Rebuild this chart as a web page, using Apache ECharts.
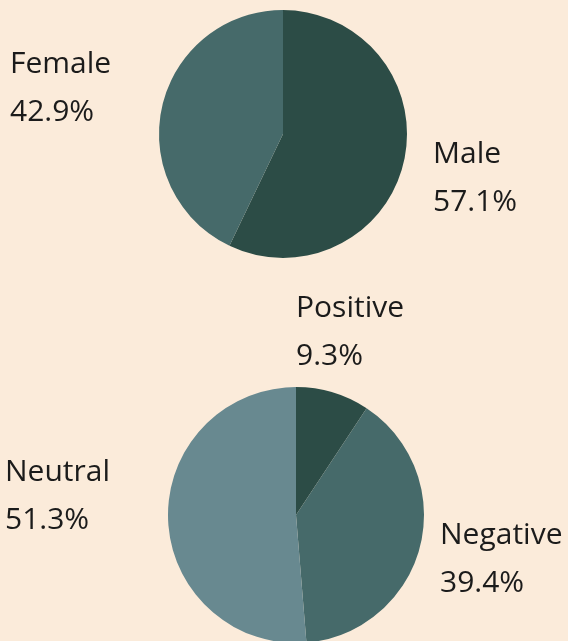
<!DOCTYPE html>
<html>
<head>
<meta charset="utf-8">
<script src="https://cdn.jsdelivr.net/npm/echarts@6/dist/echarts.min.js"></script>
<style>
  html, body { margin: 0; padding: 0; background: #fbebda; }
  #chart { width: 568px; height: 641px; }
</style>
</head>
<body>
<div id="chart"></div>
<script>
(function () {
  // gender split (percent)
  var genderNames = ['Male', 'Female'];
  var genderValues = [57.1, 42.9];

  // sentiment split (percent)
  var sentimentNames = ['Positive', 'Negative', 'Neutral'];
  var sentimentValues = [9.3, 39.4, 51.3];

  var palette = ['#2c4c46', '#466a6a', '#688990'];

  // where each label block sits (left x, middle y)
  var labelPos = {
    Female: [10, 88], Male: [433, 178],
    Positive: [296, 332], Negative: [440, 559], Neutral: [5, 496]
  };

  function toData(names, values) {
    return names.map(function (n, i) {
      return { name: n, value: values[i], itemStyle: { color: palette[i] } };
    });
  }

  var labelStyle = {
    show: true,
    position: 'outside',
    formatter: '{b}\n{d}%',
    color: '#1b1b1b',
    fontFamily: '"Open Sans", sans-serif',
    fontSize: 30,
    lineHeight: 48,
    align: 'left',
    overflow: 'none'
  };

  function layout(series) {
    return function (params) {
      var p = labelPos[series[params.dataIndex]];
      return { x: p[0], y: p[1], align: 'left', verticalAlign: 'middle' };
    };
  }

  var chart = echarts.init(document.getElementById('chart'), null, { renderer: 'canvas' });
  chart.setOption({
    animation: false,
    backgroundColor: '#fbebda',
    series: [
      {
        type: 'pie',
        center: [283, 134],
        radius: 124,
        startAngle: 90,
        percentPrecision: 1,
        data: toData(genderNames, genderValues),
        label: labelStyle,
        labelLine: { show: false },
        labelLayout: layout(genderNames),
        emphasis: { disabled: true }
      },
      {
        type: 'pie',
        center: [296, 515],
        radius: 128,
        startAngle: 90,
        percentPrecision: 1,
        data: toData(sentimentNames, sentimentValues),
        label: labelStyle,
        labelLine: { show: false },
        labelLayout: layout(sentimentNames),
        emphasis: { disabled: true }
      }
    ]
  });
  window.addEventListener('resize', function () { chart.resize(); });
})();
</script>
</body>
</html>
